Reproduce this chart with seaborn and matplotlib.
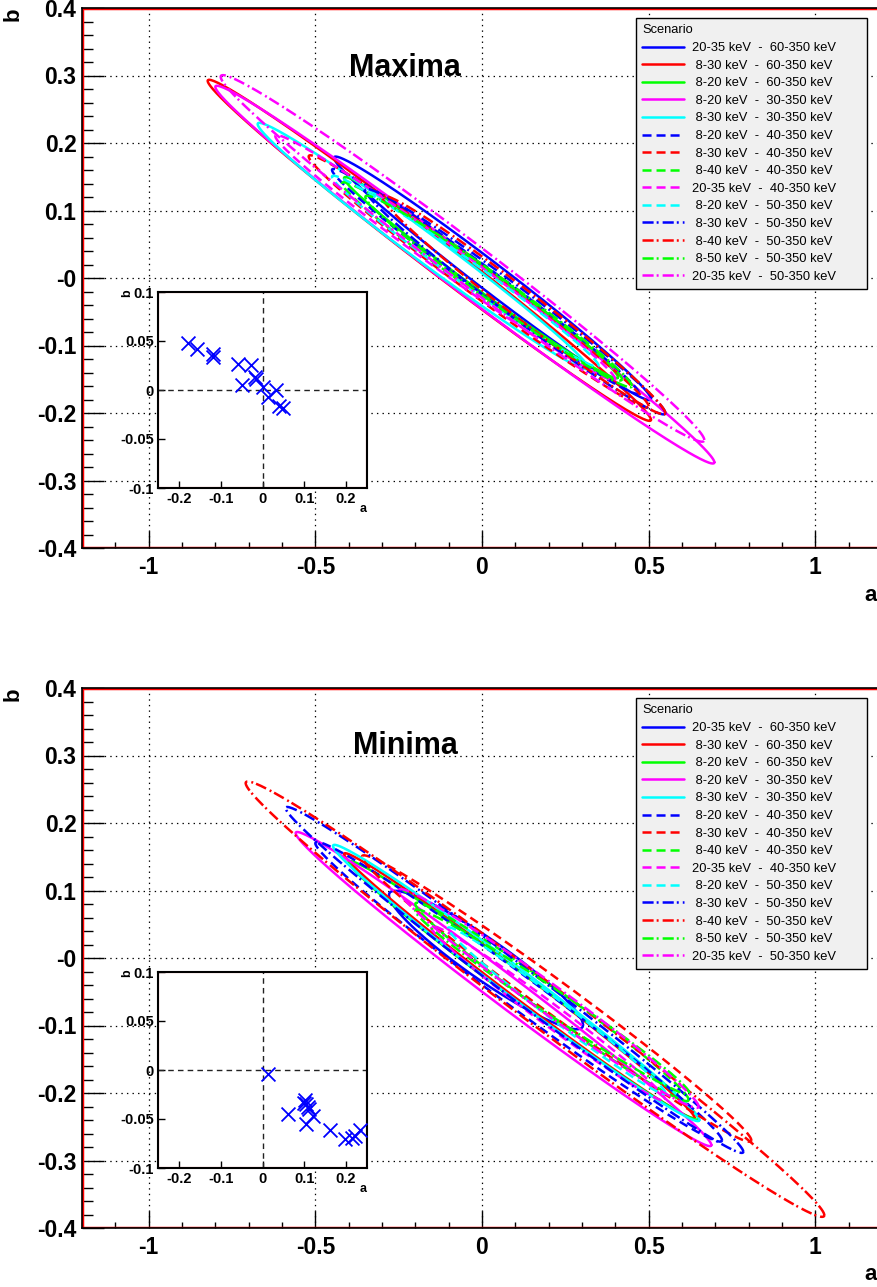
import numpy as np
import matplotlib
matplotlib.use("Agg")
import matplotlib.pyplot as plt
from matplotlib.ticker import MultipleLocator
import seaborn as sns

# ==========================================
# DATA
# ==========================================

scenarios = [
    "20-35 keV  -  60-350 keV",
    "8-30 keV  -  60-350 keV",
    "8-20 keV  -  60-350 keV",
    "8-20 keV  -  30-350 keV",
    "8-30 keV  -  30-350 keV",
    "8-20 keV  -  40-350 keV",
    "8-30 keV  -  40-350 keV",
    "8-40 keV  -  40-350 keV",
    "20-35 keV  -  40-350 keV",
    "8-20 keV  -  50-350 keV",
    "8-30 keV  -  50-350 keV",
    "8-40 keV  -  50-350 keV",
    "8-50 keV  -  50-350 keV",
    "20-35 keV  -  50-350 keV",
]

# contour ends (upper-left tip, lower-right tip) and half thickness in b
max_a_lo = [-0.444, -0.823, -0.414, -0.800, -0.673, -0.45, -0.52, -0.42, -0.62, -0.45, -0.35, -0.30, -0.35, -0.784]
max_b_lo = [0.178, 0.292, 0.148, 0.283, 0.228, 0.16, 0.18, 0.14, 0.21, 0.15, 0.13, 0.12, 0.12, 0.298]
max_a_hi = [0.507, 0.507, 0.408, 0.697, 0.318, 0.47, 0.50, 0.42, 0.40, 0.35, 0.55, 0.55, 0.45, 0.667]
max_b_hi = [-0.179, -0.210, -0.147, -0.273, -0.133, -0.17, -0.19, -0.15, -0.15, -0.13, -0.20, -0.20, -0.16, -0.240]
max_w = [0.026, 0.029, 0.021, 0.032, 0.026, 0.023, 0.026, 0.023, 0.025, 0.021, 0.026, 0.026, 0.023, 0.037]

min_a_lo = [-0.279, -0.414, -0.399, -0.559, -0.447, -0.50, -0.36, -0.20, -0.153, -0.102, -0.589, -0.709, -0.20, -0.25]
min_b_lo = [0.093, 0.154, 0.142, 0.185, 0.166, 0.17, 0.15, 0.08, 0.046, 0.044, 0.222, 0.259, 0.07, 0.10]
min_a_hi = [0.303, 0.637, 0.649, 0.688, 0.652, 0.72, 0.808, 0.62, 0.55, 0.55, 0.784, 1.027, 0.622, 0.65]
min_b_hi = [-0.099, -0.236, -0.238, -0.277, -0.240, -0.27, -0.27, -0.21, -0.21, -0.20, -0.287, -0.381, -0.20, -0.22]
min_w = [0.036, 0.022, 0.024, 0.028, 0.026, 0.030, 0.030, 0.024, 0.020, 0.018, 0.030, 0.040, 0.022, 0.026]

# best fit points shown in the insets
max_pt_a = [-0.178, -0.157, -0.118, -0.118, -0.059, -0.027, -0.049, -0.017, -0.015, 0.000, 0.013, 0.033, 0.039, 0.049]
max_pt_b = [0.0475, 0.0414, 0.0366, 0.0332, 0.0270, 0.0254, 0.0047, 0.0129, 0.0110, 0.0027, -0.0075, 0.0000, -0.0160, -0.0186]
min_pt_a = [0.014, 0.061, 0.101, 0.105, 0.109, 0.105, 0.121, 0.161, 0.197, 0.213, 0.233, 0.099, 0.112, 0.221]
min_pt_b = [-0.004, -0.045, -0.031, -0.035, -0.038, -0.055, -0.047, -0.061, -0.070, -0.069, -0.061, -0.034, -0.040, -0.067]

y_ticks = [0.4, 0.3, 0.2, 0.1, 0.0, -0.1, -0.2, -0.3, -0.4]
y_tick_labels = ["0.4", "0.3", "0.2", "0.1", "-0", "-0.1", "-0.2", "-0.3", "-0.4"]
x_ticks = [-1, -0.5, 0, 0.5, 1]
x_tick_labels = ["-1", "-0.5", "0", "0.5", "1"]

# ==========================================
# STYLE
# ==========================================

sns.set_theme(style="white")
plt.rcParams["font.family"] = ["Liberation Sans", "DejaVu Sans"]
plt.rcParams["lines.scale_dashes"] = False
plt.rcParams["text.color"] = "black"
plt.rcParams["xtick.color"] = "black"
plt.rcParams["ytick.color"] = "black"
plt.rcParams["axes.labelcolor"] = "black"

line_colors = ["#0000ff", "#ff0000", "#00ff00", "#ff00ff", "#00ffff",
               "#0000ff", "#ff0000", "#00ff00", "#ff00ff", "#00ffff",
               "#0000ff", "#ff0000", "#00ff00", "#ff00ff"]
solid = "-"
dashed = (0, (6.5, 3.6))
dashdot = (0, (8, 2.2, 1.4, 2.9))
line_styles = [solid] * 5 + [dashed] * 5 + [dashdot] * 4

W, H = 877, 1287
fig = plt.figure(figsize=(W / 100, H / 100), dpi=100)


def px_box(left, top, right, bottom):
    return [left / W, 1 - bottom / H, (right - left) / W, (bottom - top) / H]


def draw_panel(top_px, a_lo, b_lo, a_hi, b_hi, wid, pt_a, pt_b, title, title_y):
    ax = fig.add_axes(px_box(82, top_px, 882, top_px + 540))
    ax.set_xlim(-1.2, 1.2)
    ax.set_ylim(-0.4, 0.4)

    t = np.linspace(0, 2 * np.pi, 300)
    handles = []
    for i in range(len(scenarios)):
        ca = (a_lo[i] + a_hi[i]) / 2
        cb = (b_lo[i] + b_hi[i]) / 2
        ua = (a_hi[i] - a_lo[i]) / 2
        ub = (b_hi[i] - b_lo[i]) / 2
        xs = ca + ua * np.cos(t)
        ys = cb + ub * np.cos(t) + wid[i] * np.sin(t)
        sns.lineplot(x=xs, y=ys, sort=False, estimator=None, color=line_colors[i],
                     lw=1.8, ax=ax, legend=False)
        ln = ax.lines[-1]
        ln.set_linestyle(line_styles[i])
        ln.set_label(scenarios[i])
        handles.append(ln)

    ax.set_xticks(x_ticks)
    ax.set_xticklabels(x_tick_labels)
    ax.set_yticks(y_ticks)
    ax.set_yticklabels(y_tick_labels)
    ax.xaxis.set_minor_locator(MultipleLocator(0.1))
    ax.yaxis.set_minor_locator(MultipleLocator(0.02))
    ax.grid(True, which="major", color="black", linestyle=(0, (1, 3)), lw=0.9)
    ax.set_axisbelow(True)
    ax.tick_params(axis="both", which="both", direction="in", color="black",
                   labelcolor="black", bottom=True, left=True, top=False, right=False,
                   width=1.0)
    ax.tick_params(axis="x", which="major", length=12, pad=6)
    ax.tick_params(axis="x", which="minor", length=4.5)
    ax.tick_params(axis="y", which="major", length=16, pad=4)
    ax.tick_params(axis="y", which="minor", length=8)
    for lbl in ax.get_xticklabels() + ax.get_yticklabels():
        lbl.set_fontsize(16.5)
        lbl.set_fontweight("bold")
    for s in ax.spines.values():
        s.set_color("black")
        s.set_linewidth(1.2)
    ax.axhline(0.4, color="red", lw=2.5, zorder=1.5)
    ax.axhline(-0.4, color="red", lw=2.5, zorder=1.5)
    ax.axvline(-1.2, color="red", lw=2.5, zorder=1.5)

    ax.text(0.404, title_y, title, transform=ax.transAxes, ha="center", va="center",
            fontsize=22, fontweight="bold", color="black")

    labels = [(" " + s) if s.startswith("8-") else s for s in scenarios]
    leg_top = 1 - (top_px + 10) / H
    leg = ax.legend(handles, labels, title="Scenario", loc="upper left",
                    bbox_to_anchor=(636 / W, leg_top - 0.01, 231 / W, 0.01),
                    bbox_transform=fig.transFigure, mode="expand", borderaxespad=0,
                    fontsize=9.3, title_fontsize=9.3, alignment="left",
                    fancybox=False, edgecolor="black", facecolor="#f0f0f0",
                    framealpha=1, handlelength=3.2, handletextpad=0.6,
                    labelspacing=0.43, borderpad=0.5)
    leg.get_frame().set_linewidth(1.0)
    for tx in leg.get_texts():
        tx.set_color("black")
    leg.get_title().set_color("black")

    fig.text(13 / W, 1 - (top_px + 6) / H, "b", rotation=90, ha="center", va="center",
             fontsize=16, fontweight="bold")
    fig.text(871 / W, 1 - (top_px + 587) / H, "a", ha="center", va="center",
             fontsize=16, fontweight="bold")

    # inset with best fit points
    axin = fig.add_axes(px_box(158, top_px + 284, 367, top_px + 480))
    axin.set_facecolor("white")
    axin.set_xlim(-0.25, 0.25)
    axin.set_ylim(-0.1, 0.1)
    axin.axhline(0, color="#222222", lw=1.0, linestyle=(0, (4, 3)))
    axin.axvline(0, color="#222222", lw=1.0, linestyle=(0, (4, 3)))
    sns.scatterplot(x=pt_a, y=pt_b, marker="x", color="#0000ff", s=100, linewidth=1.3,
                    ax=axin, legend=False, zorder=3)
    axin.set_xticks([-0.2, -0.1, 0, 0.1, 0.2])
    axin.set_xticklabels(["-0.2", "-0.1", "0", "0.1", "0.2"])
    axin.set_yticks([-0.1, -0.05, 0, 0.05, 0.1])
    axin.set_yticklabels(["-0.1", "-0.05", "0", "0.05", "0.1"])
    axin.tick_params(direction="in", length=5, width=1, pad=3, labelsize=10.5,
                     labelcolor="black", bottom=True, left=True)
    for lbl in axin.get_xticklabels() + axin.get_yticklabels():
        lbl.set_fontweight("bold")
    axin.grid(False)
    for s in axin.spines.values():
        s.set_color("black")
        s.set_linewidth(1.5)
    axin.axhline(0.1, color="red", lw=1.5, zorder=1.5)
    axin.axhline(-0.1, color="red", lw=1.5, zorder=1.5)
    axin.axvline(0.25, color="red", lw=1.5, zorder=1.5)
    axin.axvline(-0.25, color="red", lw=1.5, zorder=1.5)
    axin.set_xlabel("")
    axin.set_ylabel("")
    fig.text(127 / W, 1 - (top_px + 285) / H, "b", rotation=90, ha="center", va="center",
             fontsize=9, fontweight="bold")
    fig.text(363 / W, 1 - (top_px + 501) / H, "a", ha="center", va="center",
             fontsize=9, fontweight="bold")
    return ax


draw_panel(8, max_a_lo, max_b_lo, max_a_hi, max_b_hi, max_w, max_pt_a, max_pt_b, "Maxima", 0.889)
draw_panel(688, min_a_lo, min_b_lo, min_a_hi, min_b_hi, min_w, min_pt_a, min_pt_b, "Minima", 0.893)

fig.savefig("out.png", dpi=100)
